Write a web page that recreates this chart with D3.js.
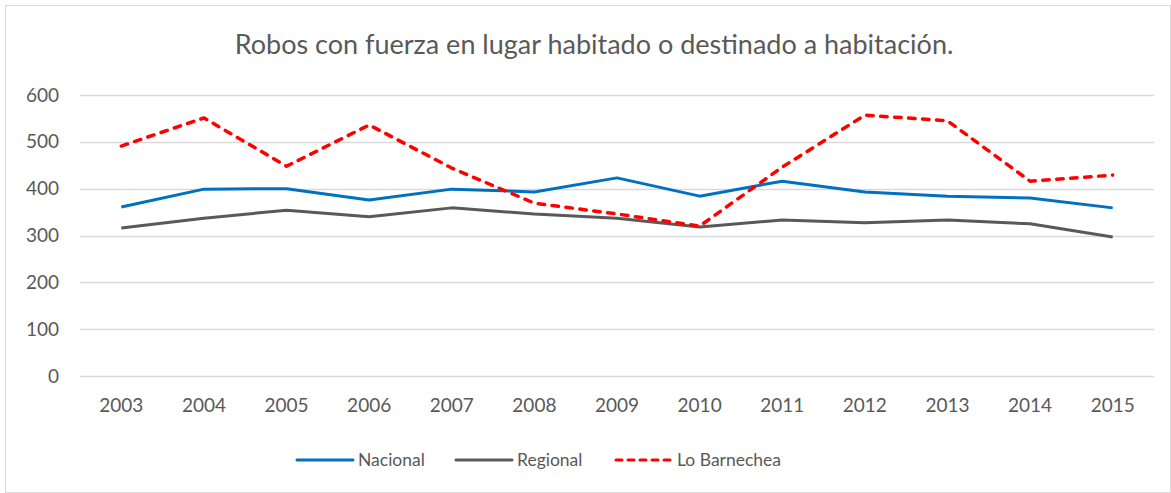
<!DOCTYPE html>
<html>
<head>
<meta charset="utf-8">
<title>Robos con fuerza</title>
<style>
  body { margin: 0; background: #fff; }
  svg text { font-family: Lato, "Open Sans", sans-serif; fill: #595959; }
</style>
</head>
<body>
<svg id="chart" width="1171" height="493"></svg>
<script src="https://d3js.org/d3.v7.min.js"></script>
<script>
var years = ["2003","2004","2005","2006","2007","2008","2009","2010","2011","2012","2013","2014","2015"];
var nacional = [361, 399, 400, 376, 399, 393, 423, 384, 416, 393, 384, 380, 359];
var regional = [316, 337, 354, 340, 359, 346, 337, 318, 333, 327, 333, 325, 297];
var barnechea = [491, 551, 448, 536, 444, 369, 346, 320, 446, 557, 545, 416, 429];
var yTicks = [0, 100, 200, 300, 400, 500, 600];

var series = [
  { name: "Nacional", values: nacional, color: "#0070c0", dash: null },
  { name: "Regional", values: regional, color: "#595959", dash: null },
  { name: "Lo Barnechea", values: barnechea, color: "#ff0000", dash: "6.5,7.5" }
];

var svg = d3.select("#chart");

// outer border
svg.append("rect")
  .attr("x", 5.5).attr("y", 5.5)
  .attr("width", 1171 - 6).attr("height", 493 - 6)
  .attr("fill", "none").attr("stroke", "#d9d9d9");

var x = d3.scaleBand().domain(years).range([80, 1154]);
var y = d3.scaleLinear().domain([0, 600]).range([376, 95]);

// gridlines
svg.append("g")
  .selectAll("line")
  .data(yTicks)
  .enter()
  .append("line")
  .attr("x1", 80).attr("x2", 1154)
  .attr("y1", function(d) { return Math.round(y(d)) + 0.5; })
  .attr("y2", function(d) { return Math.round(y(d)) + 0.5; })
  .attr("stroke", "#d9d9d9")
  .attr("stroke-width", 1.3);

// y axis labels
var yAxis = svg.append("g")
  .attr("transform", "translate(59,0)")
  .call(d3.axisLeft(y).tickValues(yTicks).tickSize(0).tickPadding(0));
yAxis.select(".domain").remove();
yAxis.selectAll("text")
  .style("font-size", "19px")
  .attr("fill", "#595959");

// x axis labels
var xAxis = svg.append("g")
  .attr("transform", "translate(0,398)")
  .call(d3.axisBottom(x).tickSize(0).tickPadding(0));
xAxis.select(".domain").remove();
xAxis.selectAll("text")
  .style("font-size", "19px")
  .attr("fill", "#595959");

// lines
var line = d3.line()
  .x(function(d, i) { return x(years[i]) + x.bandwidth() / 2; })
  .y(function(d) { return y(d); });

series.forEach(function(s) {
  svg.append("path")
    .datum(s.values)
    .attr("d", line)
    .attr("fill", "none")
    .attr("stroke", s.color)
    .attr("stroke-width", s.dash ? 3.5 : 3)
    .attr("stroke-linejoin", "round")
    .attr("stroke-linecap", s.dash ? "round" : "butt")
    .attr("stroke-dasharray", s.dash);
});

// title
svg.append("text")
  .attr("x", 594).attr("y", 54)
  .attr("text-anchor", "middle")
  .style("font-size", "27px")
  .text("Robos con fuerza en lugar habitado o destinado a habitación.");

// legend
var legendX = [297, 456, 616];
var leg = svg.append("g").selectAll("g")
  .data(series)
  .enter()
  .append("g")
  .attr("transform", function(d, i) { return "translate(" + legendX[i] + ",460)"; });
leg.append("line")
  .attr("x1", 0).attr("x2", 56)
  .attr("stroke", function(d) { return d.color; })
  .attr("stroke-width", 3)
  .attr("stroke-linecap", "round")
  .attr("stroke-dasharray", function(d) { return d.dash ? "6,6" : null; });
leg.append("text")
  .attr("x", 61).attr("y", 6)
  .style("font-size", "17.5px")
  .text(function(d) { return d.name; });
</script>
</body>
</html>
